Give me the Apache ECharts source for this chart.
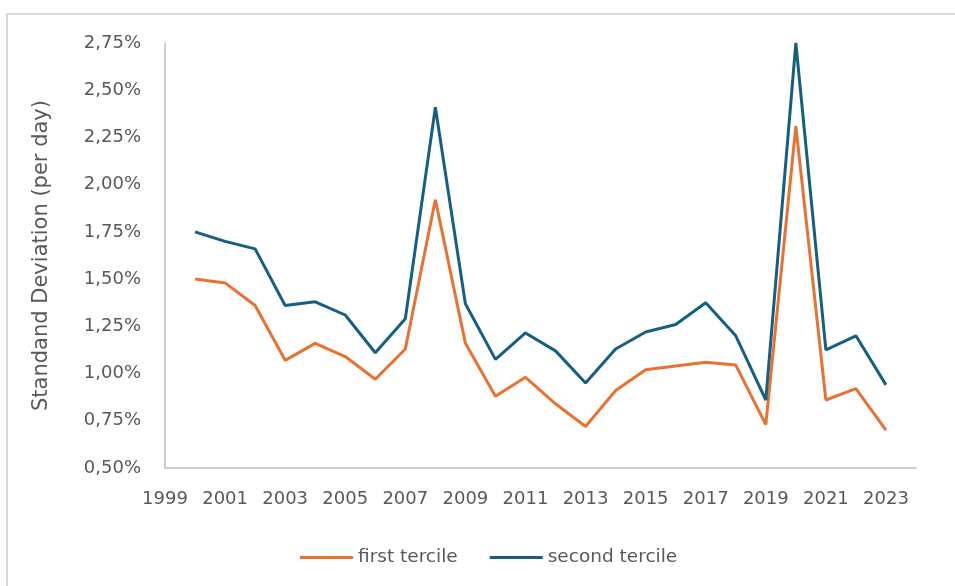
<!DOCTYPE html>
<html lang="en">

<head>
  <meta charset="UTF-8">
  <title>Standard deviation per tercile</title>
  <script src="https://cdn.jsdelivr.net/npm/echarts@6/dist/echarts.min.js"></script>
  <style>
    html, body { margin: 0; padding: 0; background: #fff; }
    #chart { width: 955px; height: 586px; }
  </style>
</head>

<body>
  <div id="chart"></div>
  <script>
    // years and daily standard deviation (in %) per tercile
    var years = [2000, 2001, 2002, 2003, 2004, 2005, 2006, 2007, 2008, 2009, 2010, 2011,
      2012, 2013, 2014, 2015, 2016, 2017, 2018, 2019, 2020, 2021, 2022, 2023]
    var firstTercile = [1.50, 1.48, 1.36, 1.07, 1.16, 1.09, 0.97, 1.13, 1.92, 1.16, 0.88, 0.98,
      0.84, 0.72, 0.91, 1.02, 1.04, 1.06, 1.045, 0.73, 2.31, 0.86, 0.92, 0.70]
    var secondTercile = [1.75, 1.70, 1.66, 1.36, 1.38, 1.31, 1.11, 1.29, 2.41, 1.37, 1.075, 1.215,
      1.12, 0.95, 1.13, 1.22, 1.26, 1.375, 1.20, 0.86, 2.75, 1.125, 1.20, 0.94]
    var seriesNames = ['first tercile', 'second tercile']

    function pairs(vals) {
      var out = []
      for (var i = 0; i < years.length; i++) {
        out.push([years[i], vals[i]])
      }
      return out
    }

    var textColor = '#595959'
    var font = 'DejaVu Sans'

    var myChart = echarts.init(document.getElementById('chart'))
    var option = {
      animation: false,
      textStyle: { fontFamily: font },
      graphic: [{
        type: 'rect',
        shape: { x: 7, y: 14, width: 1200, height: 1000 },
        style: { fill: 'none', stroke: '#d9d9d9', lineWidth: 2 },
        silent: true
      }],
      grid: { left: 165, right: 39, top: 43, bottom: 118 },
      legend: {
        left: 295,
        top: 543,
        icon: 'rect',
        itemWidth: 53,
        itemHeight: 3,
        itemGap: 32,
        textStyle: { color: textColor, fontSize: 18.5, fontFamily: font },
        data: seriesNames
      },
      xAxis: {
        type: 'value',
        min: 1999,
        max: 2024,
        interval: 1,
        axisLine: { lineStyle: { color: '#bfbfbf', width: 1.5 } },
        axisTick: { show: false },
        splitLine: { show: false },
        axisLabel: {
          color: textColor,
          fontSize: 18,
          margin: 22,
          formatter: function (v) {
            return v % 2 === 1 ? String(v) : ''
          }
        }
      },
      yAxis: {
        type: 'value',
        min: 0.5,
        max: 2.75,
        interval: 0.25,
        name: 'Standand Deviation (per day)',
        nameLocation: 'middle',
        nameGap: 113,
        nameTextStyle: { color: textColor, fontSize: 21, fontFamily: font },
        axisLine: { show: true, lineStyle: { color: '#bfbfbf', width: 1.5 } },
        axisTick: { show: false },
        splitLine: { show: false },
        axisLabel: {
          color: textColor,
          fontSize: 18,
          margin: 24,
          formatter: function (v) {
            return v.toFixed(2).replace('.', ',') + '%'
          }
        }
      },
      series: [
        {
          name: seriesNames[0],
          type: 'line',
          symbol: 'none',
          data: pairs(firstTercile),
          lineStyle: { color: '#e97132', width: 3 },
          itemStyle: { color: '#e97132' }
        },
        {
          name: seriesNames[1],
          type: 'line',
          symbol: 'none',
          data: pairs(secondTercile),
          lineStyle: { color: '#156082', width: 3 },
          itemStyle: { color: '#156082' }
        }
      ]
    }
    myChart.setOption(option)
    window.onresize = function () {
      myChart.resize()
    }
  </script>
</body>

</html>
